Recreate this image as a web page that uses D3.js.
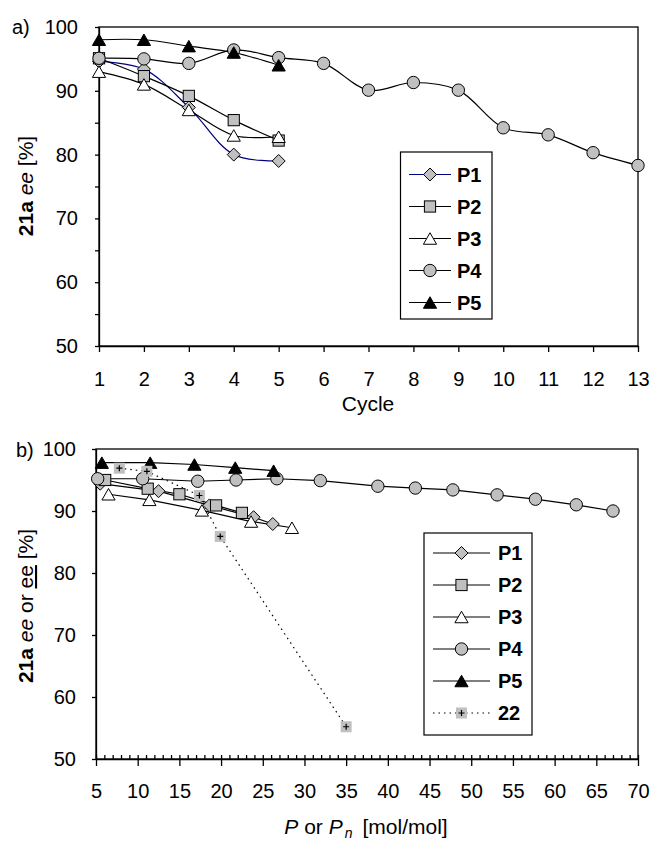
<!DOCTYPE html>
<html>
<head>
<meta charset="utf-8">
<script src="https://cdn.jsdelivr.net/npm/d3@7"></script>
<style>
  body { margin: 0; background: #fff; }
  svg { display: block; font-family: "Liberation Sans", Arial, sans-serif; }
</style>
</head>
<body>
<div id="chart"></div>
<script>
// ---- panel a) ee over recycling runs
const cycles = [1, 2, 3, 4, 5, 6, 7, 8, 9, 10, 11, 12, 13];
const aP1 = [94.6, 93.4, 87.4, 80.0, 79.0];
const aP2 = [95.1, 92.3, 89.2, 85.4, 82.2];
const aP3 = [93.0, 91.0, 87.0, 83.0, 82.8];
const aP4 = [95.1, 95.0, 94.3, 96.4, 95.2, 94.3, 90.1, 91.3, 90.1, 84.2, 83.1, 80.3, 78.3];
const aP5 = [98.0, 98.0, 97.0, 96.0, 94.0];

// ---- panel b) ee over cumulated productivity
const bP1x = [5.5, 12.5, 18.6, 23.9, 26.2];
const bP1y = [94.4, 93.2, 90.9, 89.0, 87.9];
const bP2x = [6.1, 11.2, 15.0, 19.4, 22.5];
const bP2y = [95.0, 93.6, 92.7, 90.9, 89.7];
const bP3x = [6.5, 11.4, 17.7, 23.6, 28.5];
const bP3y = [92.7, 91.8, 90.1, 88.3, 87.3];
const bP4x = [5.2, 10.6, 17.2, 21.8, 26.7, 31.9, 38.8, 43.3, 47.8, 53.1, 57.7, 62.6, 67.0];
const bP4y = [95.2, 95.2, 94.8, 95.0, 95.2, 94.9, 94.0, 93.7, 93.4, 92.6, 91.9, 91.0, 90.0];
const bP5x = [5.7, 11.5, 16.8, 21.7, 26.3];
const bP5y = [97.8, 97.8, 97.5, 97.0, 96.5];
const b22x = [7.8, 11.1, 17.4, 19.9, 35.0];
const b22y = [96.9, 96.4, 92.5, 85.9, 55.2];

const yTicks = [50, 60, 70, 80, 90, 100];
const aYMinor = [55, 65, 75, 85, 95];
const bXTicks = [5, 10, 15, 20, 25, 30, 35, 40, 45, 50, 55, 60, 65, 70];

const GRAY = '#c0c0c0';
const NAVY = '#000080';
const FONT = 20;

const svg = d3.select('#chart')
    .append('svg')
    .attr('width', 653)
    .attr('height', 843);

function marker(g, type, x, y) {
    if (type === 'circle') {
        g.append('circle').attr('cx', x).attr('cy', y).attr('r', 6.2)
            .attr('fill', GRAY).attr('stroke', '#000').attr('stroke-width', 1);
    } else if (type === 'square') {
        g.append('rect').attr('x', x - 5.6).attr('y', y - 5.6).attr('width', 11.2).attr('height', 11.2)
            .attr('fill', GRAY).attr('stroke', '#000').attr('stroke-width', 1);
    } else if (type === 'diamond') {
        const r = 6.5;
        g.append('path').attr('d', `M${x},${y - r}L${x + r},${y}L${x},${y + r}L${x - r},${y}Z`)
            .attr('fill', GRAY).attr('stroke', '#000').attr('stroke-width', 1);
    } else if (type === 'triW' || type === 'triB') {
        const w = 6.6, h = 11.5;
        g.append('path').attr('d', `M${x},${y - h / 2}L${x + w},${y + h / 2}L${x - w},${y + h / 2}Z`)
            .attr('fill', type === 'triW' ? '#fff' : '#000').attr('stroke', '#000').attr('stroke-width', 1);
    } else if (type === 'plus') {
        g.append('rect').attr('x', x - 5.5).attr('y', y - 5.5).attr('width', 11).attr('height', 11)
            .attr('fill', GRAY);
        g.append('path').attr('d', `M${x - 3},${y}H${x + 3}M${x},${y - 3}V${y + 3}`)
            .attr('stroke', '#000').attr('stroke-width', 1.2);
    }
}

function drawPanel(cfg) {
    const { x, y } = cfg;
    const g = svg.append('g');

    // y axis
    g.append('g')
        .attr('transform', `translate(${x.range()[0]},0)`)
        .call(d3.axisLeft(y).tickValues(yTicks).tickSizeInner(4).tickSizeOuter(0).tickPadding(cfg.yPad))
        .call((a) => a.selectAll('text').attr('font-size', FONT).attr('font-family', 'inherit').attr('fill', '#000'));
    if (cfg.yMinor) {
        g.append('g')
            .attr('transform', `translate(${x.range()[0]},0)`)
            .call(d3.axisLeft(y).tickValues(cfg.yMinor).tickSize(4).tickFormat(''))
            .call((a) => a.select('.domain').remove());
    }

    // x axis
    const h = y.range()[0];
    g.append('g')
        .attr('transform', `translate(0,${h})`)
        .call(d3.axisBottom(x).tickValues(cfg.xTicks).tickFormat(d3.format('d'))
            .tickSizeInner(cfg.xTickLen).tickSizeOuter(0).tickPadding(cfg.xPad))
        .call((a) => a.selectAll('text').attr('font-size', FONT).attr('font-family', 'inherit').attr('fill', '#000'));
    if (cfg.xMinor) {
        g.append('g')
            .attr('transform', `translate(0,${h})`)
            .call(d3.axisBottom(x).tickValues(cfg.xMinor).tickSize(-4).tickFormat(''))
            .call((a) => a.select('.domain').remove());
    }
    g.selectAll('.tick line, .domain').attr('stroke', '#000').attr('stroke-width', 1.3);

    // plot frame
    g.append('rect')
        .attr('x', x.range()[0]).attr('y', y.range()[1])
        .attr('width', x.range()[1] - x.range()[0])
        .attr('height', y.range()[0] - y.range()[1])
        .attr('fill', 'none').attr('stroke', '#000').attr('stroke-width', 1.3);

    // lines then markers
    cfg.series.forEach((s) => {
        const pts = s.xs.map((v, i) => [x(v), y(s.ys[i])]);
        g.append('path')
            .attr('d', d3.line().curve(cfg.curve)(pts))
            .attr('fill', 'none')
            .attr('stroke', s.color || '#000')
            .attr('stroke-width', 1.2)
            .attr('stroke-dasharray', s.dotted ? '1.5,4' : null);
    });
    cfg.series.forEach((s) => {
        s.xs.forEach((v, i) => marker(g, s.type, x(v), y(s.ys[i])));
    });

    // legend
    const L = cfg.legend;
    const lg = g.append('g');
    lg.append('rect')
        .attr('x', L.x).attr('y', L.y).attr('width', L.w).attr('height', L.h)
        .attr('fill', '#fff').attr('stroke', '#000').attr('stroke-width', 1.2);
    cfg.series.forEach((s, i) => {
        const cy = L.first + i * L.step;
        lg.append('line')
            .attr('x1', L.lineX0).attr('x2', L.lineX1).attr('y1', cy).attr('y2', cy)
            .attr('stroke', s.color || '#000').attr('stroke-width', 1.2)
            .attr('stroke-dasharray', s.dotted ? '1.5,4' : null);
        marker(lg, s.type, (L.lineX0 + L.lineX1) / 2, cy);
        lg.append('text')
            .attr('x', L.textX).attr('y', cy).attr('dy', '0.36em')
            .attr('font-size', FONT).attr('font-weight', 'bold')
            .text(s.name);
    });

    // panel tag
    g.append('text').attr('x', cfg.tag.x).attr('y', cfg.tag.y)
        .attr('font-size', FONT).text(cfg.tag.text);

    return g;
}

// ---------- panel a
const ga = drawPanel({
    x: d3.scaleLinear().domain([1, 13]).range([99, 638]),
    y: d3.scaleLinear().domain([50, 100]).range([346, 27]),
    xTicks: cycles,
    yMinor: aYMinor,
    xTickLen: 6,
    xPad: 20,
    yPad: 17,
    curve: d3.curveCatmullRom.alpha(0.5),
    series: [
        { name: 'P1', xs: cycles.slice(0, aP1.length), ys: aP1, type: 'diamond', color: NAVY },
        { name: 'P2', xs: cycles.slice(0, aP2.length), ys: aP2, type: 'square' },
        { name: 'P3', xs: cycles.slice(0, aP3.length), ys: aP3, type: 'triW' },
        { name: 'P4', xs: cycles.slice(0, aP4.length), ys: aP4, type: 'circle' },
        { name: 'P5', xs: cycles.slice(0, aP5.length), ys: aP5, type: 'triB' },
    ],
    legend: { x: 400.5, y: 152, w: 91.5, h: 167, first: 174.5, step: 32, lineX0: 409, lineX1: 451, textX: 457 },
    tag: { x: 12, y: 34, text: 'a)' },
});

ga.append('text')
    .attr('x', 368).attr('y', 411)
    .attr('text-anchor', 'middle').attr('font-size', 21)
    .text('Cycle');

const ya = ga.append('text')
    .attr('transform', 'translate(33,186) rotate(-90)')
    .attr('text-anchor', 'middle').attr('font-size', 21);
ya.append('tspan').attr('font-weight', 'bold').text('21a');
ya.append('tspan').text(' ');
ya.append('tspan').attr('font-style', 'italic').text('ee');
ya.append('tspan').text(' [%]');

// ---------- panel b
const gb = drawPanel({
    x: d3.scaleLinear().domain([5, 70]).range([96, 638]),
    y: d3.scaleLinear().domain([50, 100]).range([759, 449]),
    xTicks: bXTicks,
    xMinor: d3.range(5, 71),
    xTickLen: 7,
    xPad: 18,
    yPad: 16,
    curve: d3.curveLinear,
    series: [
        { name: 'P1', xs: bP1x, ys: bP1y, type: 'diamond' },
        { name: 'P2', xs: bP2x, ys: bP2y, type: 'square' },
        { name: 'P3', xs: bP3x, ys: bP3y, type: 'triW' },
        { name: 'P4', xs: bP4x, ys: bP4y, type: 'circle' },
        { name: 'P5', xs: bP5x, ys: bP5y, type: 'triB' },
        { name: '22', xs: b22x, ys: b22y, type: 'plus', dotted: true },
    ],
    legend: { x: 424, y: 533, w: 108, h: 202, first: 553, step: 32, lineX0: 433, lineX1: 490, textX: 498 },
    tag: { x: 16, y: 457, text: 'b)' },
});

const xb = gb.append('text')
    .attr('x', 366).attr('y', 834)
    .attr('text-anchor', 'middle').attr('font-size', 21);
xb.append('tspan').attr('font-style', 'italic').text('P');
xb.append('tspan').text(' or ');
xb.append('tspan').attr('font-style', 'italic').text('P');
xb.append('tspan').attr('font-style', 'italic').attr('font-size', 14).attr('dy', 4).attr('dx', 2).text('n');
xb.append('tspan').attr('dy', -4).attr('dx', 10).text('[mol/mol]');

const yb = gb.append('text')
    .attr('transform', 'translate(33,606) rotate(-90)')
    .attr('text-anchor', 'middle').attr('font-size', 21);
yb.append('tspan').attr('font-weight', 'bold').text('21a');
yb.append('tspan').text(' ');
yb.append('tspan').attr('font-style', 'italic').text('ee');
yb.append('tspan').text(' or ');
yb.append('tspan').attr('text-decoration', 'underline').text('ee');
yb.append('tspan').text(' [%]');
</script>
</body>
</html>
